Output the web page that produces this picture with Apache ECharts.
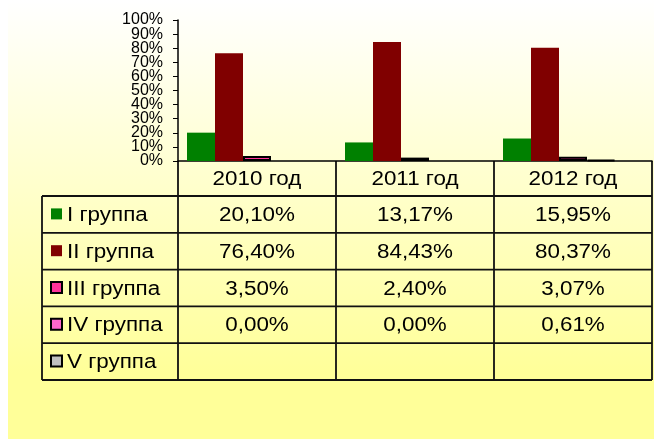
<!DOCTYPE html>
<html>
<head>
<meta charset="utf-8">
<script src="https://cdn.jsdelivr.net/npm/echarts@6/dist/echarts.min.js"></script>
<style>
  html, body { margin: 0; padding: 0; background: #fff; }
  #chart { width: 654px; height: 439px; }
</style>
</head>
<body>
<div id="chart"></div>
<script>
// данные диаграммы
const years = ['2010 год', '2011 год', '2012 год'];
const groups = ['I группа', 'II группа', 'III группа', 'IV группа', 'V группа'];
const group1 = [20.10, 13.17, 15.95];
const group2 = [76.40, 84.43, 80.37];
const group3 = [3.50, 2.40, 3.07];
const group4 = [0.00, 0.00, 0.61];
const group5 = [null, null, null];
const yTicks = [0, 10, 20, 30, 40, 50, 60, 70, 80, 90, 100];

const seriesValues = [group1, group2, group3, group4, group5];
const colors = ['#008000', '#800000', '#FF3399', '#FF66CC', '#C0C0C0'];
const bordered = [false, false, true, true, true];

const FONT = '"Liberation Sans", Arial, sans-serif';
const dom = document.getElementById('chart');
const chart = echarts.init(dom, null, { renderer: 'canvas' });

// геометрия сетки и таблицы
const gLeft = 178, gRight = 2, gTop = 20, gBottom = 278;
const axisY = 439 - gBottom;      // линия оси, верх таблицы
const tableLeft = 42;
const headerBottom = 196;
const rowH = 36.8;

chart.setOption({
  animation: false,
  textStyle: { fontFamily: FONT },
  grid: { left: gLeft, right: gRight, top: gTop, bottom: gBottom, outerBoundsMode: 'none' },
  xAxis: {
    type: 'category',
    data: years,
    axisLine: { lineStyle: { color: '#000', width: 1.5 } },
    axisTick: { show: false },
    axisLabel: { show: false }
  },
  yAxis: {
    type: 'value',
    min: yTicks[0],
    max: yTicks[yTicks.length - 1],
    interval: 10,
    axisLine: { show: true, lineStyle: { color: '#000', width: 1.5 } },
    axisTick: { show: true, length: 5, lineStyle: { color: '#000' } },
    splitLine: { show: false },
    // подписи рисуются ниже вручную — ECharts прячет слипшиеся 16px подписи
    axisLabel: { show: false }
  },
  series: seriesValues.map((vals, i) => ({
    name: groups[i],
    type: 'bar',
    barWidth: 28,
    barGap: '0%',
    itemStyle: {
      color: colors[i],
      borderColor: bordered[i] ? '#000' : colors[i],
      borderWidth: bordered[i] ? 2 : 0
    },
    data: vals.map(v => (v === 0 ? { value: v, itemStyle: { borderWidth: 0 } } : v))
  }))
});

// таблица данных под осью
function buildTable() {
  const els = [];
  els.push({
    type: 'rect', z: -100, silent: true,
    shape: { x: 8, y: 0, width: 646, height: 439 },
    style: {
      fill: new echarts.graphic.LinearGradient(0, 0, 0, 1, [
        { offset: 0, color: '#FFFFFF' },
        { offset: 0.85, color: '#FFFF99' },
        { offset: 1, color: '#FFFF99' }
      ])
    }
  });

  // подписи оси Y по шкале графика
  yTicks.forEach(t => {
    els.push({
      type: 'text', x: gLeft - 15, y: chart.convertToPixel({ yAxisIndex: 0 }, t),
      style: { text: t + '%', fill: '#000', font: '16px ' + FONT, textAlign: 'right', textVerticalAlign: 'middle' }
    });
  });

  const half = (chart.convertToPixel({ xAxisIndex: 0 }, 1) - chart.convertToPixel({ xAxisIndex: 0 }, 0)) / 2;
  const centers = years.map((_, i) => chart.convertToPixel({ xAxisIndex: 0 }, i));
  const tableBottom = headerBottom + rowH * groups.length;
  const line = { stroke: '#111', lineWidth: 1.8 };

  // вертикальные линии
  const xs = [gLeft].concat(centers.map(c => c + half));
  xs.forEach(x => els.push({ type: 'line', shape: { x1: x, y1: axisY, x2: x, y2: tableBottom }, style: line }));
  els.push({ type: 'line', shape: { x1: tableLeft, y1: headerBottom, x2: tableLeft, y2: tableBottom }, style: line });
  // горизонтальные линии
  for (let r = 0; r <= groups.length; r++) {
    const y = headerBottom + r * rowH;
    els.push({ type: 'line', shape: { x1: tableLeft, y1: y, x2: xs[xs.length - 1], y2: y }, style: line });
  }

  const txt = (x, y, text, align) => ({
    type: 'text', x: x, y: y, scaleX: 1.12,
    style: { text: text, x: 0, y: 0, fill: '#000', font: '20px ' + FONT, textAlign: align, textVerticalAlign: 'middle' }
  });

  // заголовки годов
  centers.forEach((c, i) => els.push(txt(c, (axisY + headerBottom) / 2 + 1, years[i], 'center')));

  // строки групп
  groups.forEach((g, r) => {
    const cy = headerBottom + r * rowH + rowH / 2;
    els.push({
      type: 'rect',
      shape: { x: 51, y: cy - 6, width: 11, height: 11 },
      style: { fill: colors[r], stroke: bordered[r] ? '#000' : colors[r], lineWidth: bordered[r] ? 2 : 0 }
    });
    els.push(txt(67, cy + 1, g, 'left'));
    seriesValues[r].forEach((v, i) => {
      if (v === null) return;
      els.push(txt(centers[i], cy + 1, v.toFixed(2).replace('.', ',') + '%', 'center'));
    });
  });
  return els;
}

chart.setOption({ graphic: { elements: buildTable() } });
window.addEventListener('resize', () => chart.resize());
</script>
</body>
</html>
